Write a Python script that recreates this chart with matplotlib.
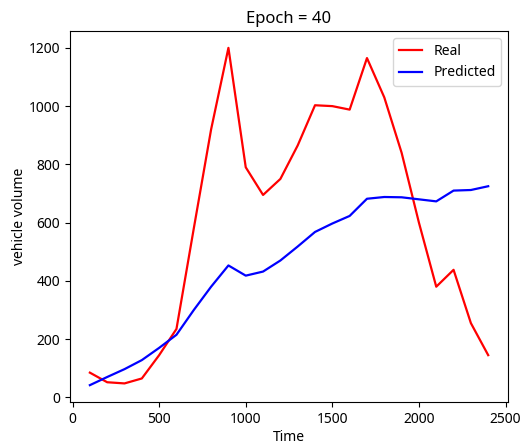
import matplotlib
matplotlib.use('Agg')
import matplotlib.pyplot as plt

plt.rcParams['font.family'] = ['Noto Sans', 'DejaVu Sans']

time = [100, 200, 300, 400, 500, 600, 700, 800, 900, 1000, 1100, 1200,
        1300, 1400, 1500, 1600, 1700, 1800, 1900, 2000, 2100, 2200, 2300, 2400]
real = [85, 52, 48, 65, 145, 235, 580, 920, 1200, 790, 695, 750,
        865, 1003, 1000, 988, 1165, 1030, 840, 600, 380, 438, 255, 145]
predicted = [42, 70, 97, 128, 170, 215, 300, 380, 453, 418, 432, 470,
             518, 568, 597, 623, 682, 688, 687, 680, 673, 710, 712, 725]

fig = plt.figure(figsize=(5.26, 4.43), dpi=100)
ax = fig.add_axes([0.133, 0.0925, 0.833, 0.8375])
ax.plot(time, real, color='red', label='Real', linewidth=1.6)
ax.plot(time, predicted, color='blue', label='Predicted', linewidth=1.6)
ax.set_title('Epoch = 40')
ax.set_xlabel('Time', labelpad=2)
ax.set_ylabel('vehicle volume', labelpad=1)
ax.legend(loc='upper right', handlelength=1.7)
fig.savefig('out.png', dpi=100)
